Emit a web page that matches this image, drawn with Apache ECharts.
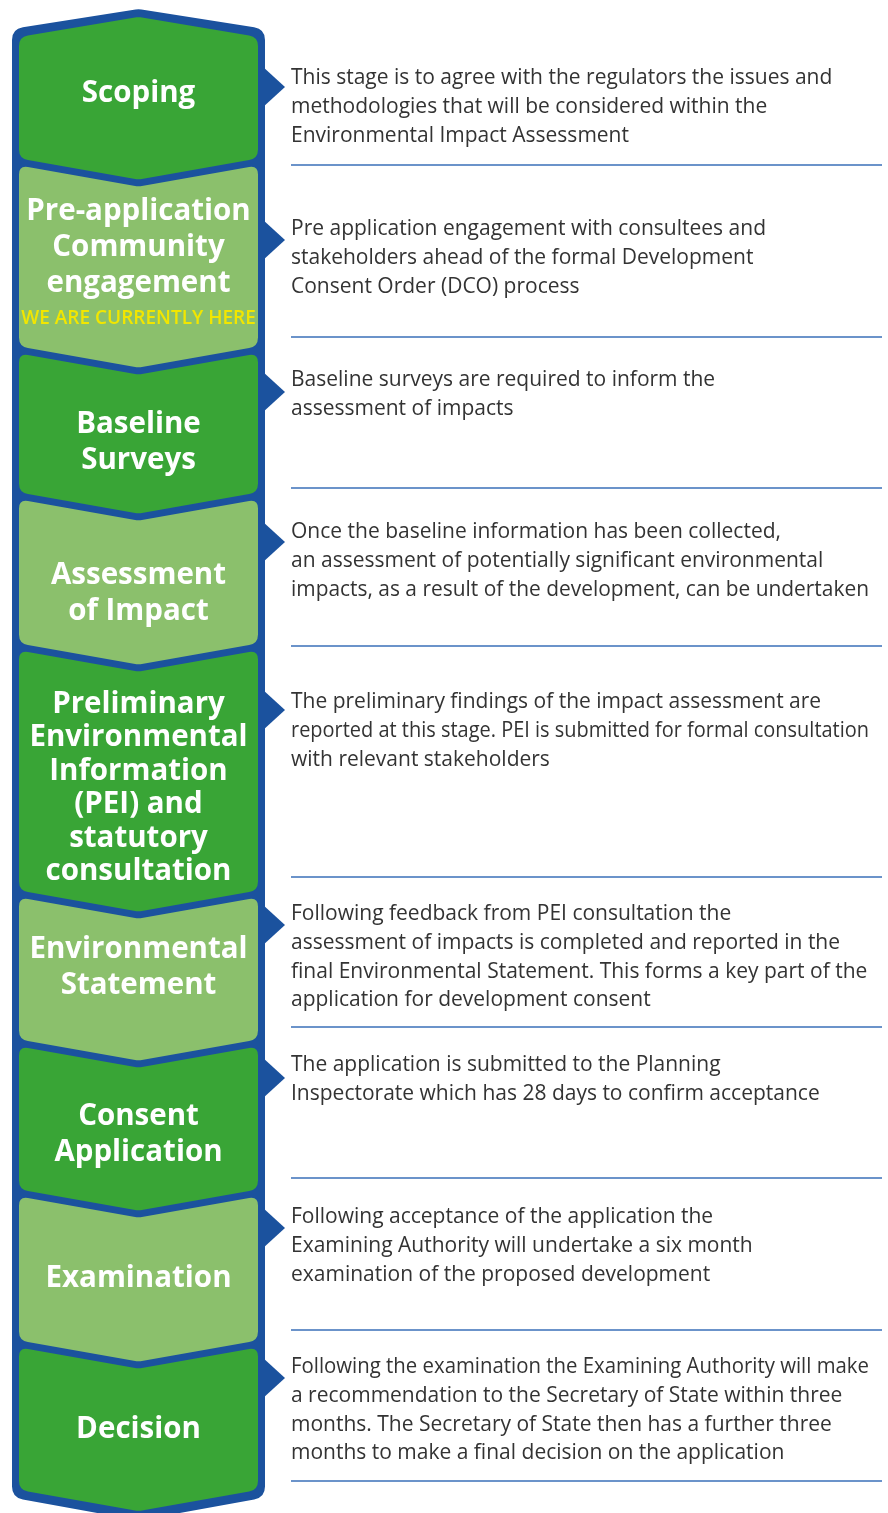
<!DOCTYPE html>
<html>
<head>
<meta charset="utf-8">
<script src="https://cdn.jsdelivr.net/npm/echarts@6/dist/echarts.min.js"></script>
<style>
html,body{margin:0;padding:0;background:#fff;}
#chart{width:888px;height:1513px;}
</style>
</head>
<body>
<div id="chart"></div>
<script>
// ---- data ----
const stageNames = [
  'Scoping',
  'Pre-application\nCommunity\nengagement',
  'Baseline\nSurveys',
  'Assessment\nof Impact',
  'Preliminary\nEnvironmental\nInformation\n(PEI) and\nstatutory\nconsultation',
  'Environmental\nStatement',
  'Consent\nApplication',
  'Examination',
  'Decision'
];
// y positions (axis units) where stages meet; first/last = outer ends
const stageEdges = [29, 162, 350, 496, 647, 894, 1043, 1193, 1344, 1494];
const labelCenters = [94, 248, 443, 594, 788, 968, 1135, 1279, 1430];
const currentStage = 1;
const currentNote = 'WE ARE CURRENTLY HERE';
const currentNoteY = 319;
const descriptions = [
  'This stage is to agree with the regulators the issues and\nmethodologies that will be considered within the\nEnvironmental Impact Assessment',
  'Pre application engagement with consultees and\nstakeholders ahead of the formal Development\nConsent Order (DCO) process',
  'Baseline surveys are required to inform the\nassessment of impacts',
  'Once the baseline information has been collected,\nan assessment of potentially significant environmental\nimpacts, as a result of the development, can be undertaken',
  'The preliminary findings of the impact assessment are\nreported at this stage. PEI is submitted for formal consultation\nwith relevant stakeholders',
  'Following feedback from PEI consultation the\nassessment of impacts is completed and reported in the\nfinal Environmental Statement. This forms a key part of the\napplication for development consent',
  'The application is submitted to the Planning\nInspectorate which has 28 days to confirm acceptance',
  'Following acceptance of the application the\nExamining Authority will undertake a six month\nexamination of the proposed development',
  'Following the examination the Examining Authority will make\na recommendation to the Secretary of State within three\nmonths. The Secretary of State then has a further three\nmonths to make a final decision on the application'
];
const descFirstLine = [78, 229, 380, 532, 702, 914, 1065, 1217, 1367];
const arrowCenters = [87, 240, 392, 542, 710, 925, 1078, 1228, 1378];
const dividerYs = [165, 337, 488, 646, 877, 1027, 1178, 1330, 1481];

// ---- layout / style ----
const L = {
  colLeft: 12, colRight: 265, border: 7, chevron: 21, gapHalf: 3.5,
  textX: 291, lineEnd: 882, arrowTip: 20, arrowHalf: 21, descLine: 28.8, maxLineW: 578
};
const C = {
  frame: '#1b529e', dark: '#39a536', light: '#8bc06c', note: '#f2e600',
  text: '#333333', divider: '#3a6fb8'
};
const FONT = "'Open Sans', 'Noto Sans', sans-serif";
const DESC_SIZE = 21;

const measureCtx = document.createElement('canvas').getContext('2d');
function textWidth(str, size, weight) {
  measureCtx.font = (weight || 'normal') + ' ' + size + 'px ' + FONT;
  return measureCtx.measureText(str).width;
}

function roundedPath(pts, radii) {
  let d = '';
  const n = pts.length;
  for (let i = 0; i < n; i++) {
    const p = pts[i], a = pts[(i - 1 + n) % n], b = pts[(i + 1) % n];
    const r = radii[i];
    const da = Math.hypot(a[0] - p[0], a[1] - p[1]);
    const db = Math.hypot(b[0] - p[0], b[1] - p[1]);
    const p1 = [p[0] + (a[0] - p[0]) * r / da, p[1] + (a[1] - p[1]) * r / da];
    const p2 = [p[0] + (b[0] - p[0]) * r / db, p[1] + (b[1] - p[1]) * r / db];
    d += (i === 0 ? 'M' : 'L') + p1[0].toFixed(2) + ' ' + p1[1].toFixed(2) +
      ' Q' + p[0].toFixed(2) + ' ' + p[1].toFixed(2) + ' ' + p2[0].toFixed(2) + ' ' + p2[1].toFixed(2) + ' ';
  }
  return d + 'Z';
}

const n = stageNames.length;
const midX = (L.colLeft + L.colRight) / 2;

function frameItem(params, api) {
  const c = (x, y) => api.coord([x, y]);
  const top = stageEdges[0], bot = stageEdges[n] + L.gapHalf;
  const pts = [
    c(L.colLeft, top), c(midX, top - 20), c(L.colRight, top),
    c(L.colRight, bot), c(midX, bot + L.chevron + 2), c(L.colLeft, bot)
  ];
  return { type: 'path', shape: { pathData: roundedPath(pts, [11, 3, 11, 11, 3, 11]) },
    style: { fill: C.frame } };
}

function stageItem(params, api) {
  const i = params.dataIndex;
  const c = (x, y) => api.coord([x, y]);
  const xl = L.colLeft + L.border, xr = L.colRight - L.border;
  let topSide, topCenter;
  if (i === 0) { topSide = stageEdges[0] + 8; topCenter = topSide - 20; }
  else { topSide = stageEdges[i] + L.gapHalf; topCenter = topSide + L.chevron; }
  const botSide = (i === n - 1 ? stageEdges[n] - 4 : stageEdges[i + 1] - L.gapHalf);
  const botCenter = botSide + L.chevron;
  const pts = [
    c(xl, topSide), c(midX, topCenter), c(xr, topSide),
    c(xr, botSide), c(midX, botCenter), c(xl, botSide)
  ];
  const children = [{
    type: 'path', shape: { pathData: roundedPath(pts, [9, 2, 9, 9, 2, 9]) },
    style: { fill: i % 2 === 0 ? C.dark : C.light }
  }];
  const lines = stageNames[i].split('\n').length;
  const lh = lines > 4 ? 33.4 : 36;
  const lc = c(midX, labelCenters[i]);
  children.push({
    type: 'text',
    style: { text: stageNames[i], x: lc[0], y: lc[1], align: 'center', verticalAlign: 'middle',
      fill: '#ffffff', fontFamily: FONT, fontWeight: 'bold', fontSize: 29.5, lineHeight: lh }
  });
  if (i === currentStage) {
    const nc = c(midX, currentNoteY);
    children.push({
      type: 'text',
      style: { text: currentNote, x: nc[0], y: nc[1], align: 'center', verticalAlign: 'middle',
        fill: C.note, fontFamily: FONT, fontWeight: 600, fontSize: 19 }
    });
  }
  return { type: 'group', children };
}

function arrowItem(params, api) {
  const i = params.dataIndex;
  const y = arrowCenters[i];
  const pts = [api.coord([L.colRight - 3, y - L.arrowHalf]), api.coord([L.colRight + L.arrowTip, y]),
    api.coord([L.colRight - 3, y + L.arrowHalf])];
  return { type: 'polygon', shape: { points: pts }, style: { fill: C.frame } };
}

function descItem(params, api) {
  const i = params.dataIndex;
  const children = [];
  descriptions[i].split('\n').forEach((line, k) => {
    const p = api.coord([L.textX, descFirstLine[i] + k * L.descLine]);
    const w = textWidth(line, DESC_SIZE);
    const sx = w > L.maxLineW ? L.maxLineW / w : 1;
    children.push({
      type: 'text', x: p[0], y: p[1], scaleX: sx,
      style: { text: line, x: 0, y: 0, align: 'left', verticalAlign: 'middle',
        fill: C.text, fontFamily: FONT, fontSize: DESC_SIZE }
    });
  });
  const a = api.coord([L.textX, dividerYs[i]]);
  const b = api.coord([L.lineEnd, dividerYs[i]]);
  children.push({ type: 'line', shape: { x1: a[0], y1: a[1], x2: b[0], y2: b[1] },
    style: { stroke: C.divider, lineWidth: 1.5 } });
  return { type: 'group', children };
}

const chart = echarts.init(document.getElementById('chart'), null, { renderer: 'canvas' });
chart.setOption({
  animation: false,
  backgroundColor: '#ffffff',
  grid: { left: 0, right: 0, top: 0, bottom: 0 },
  xAxis: { type: 'value', min: 0, max: 888, show: false },
  yAxis: { type: 'value', min: 0, max: 1513, inverse: true, show: false },
  series: [
    { type: 'custom', clip: false, renderItem: frameItem, data: [[midX, stageEdges[0]]] },
    { type: 'custom', clip: false, renderItem: arrowItem, data: arrowCenters.map(y => [L.colRight, y]) },
    { type: 'custom', clip: false, renderItem: stageItem, data: stageNames.map((s, i) => [midX, labelCenters[i]]) },
    { type: 'custom', clip: false, renderItem: descItem, data: descriptions.map((s, i) => [L.textX, descFirstLine[i]]) }
  ]
});
</script>
</body>
</html>
